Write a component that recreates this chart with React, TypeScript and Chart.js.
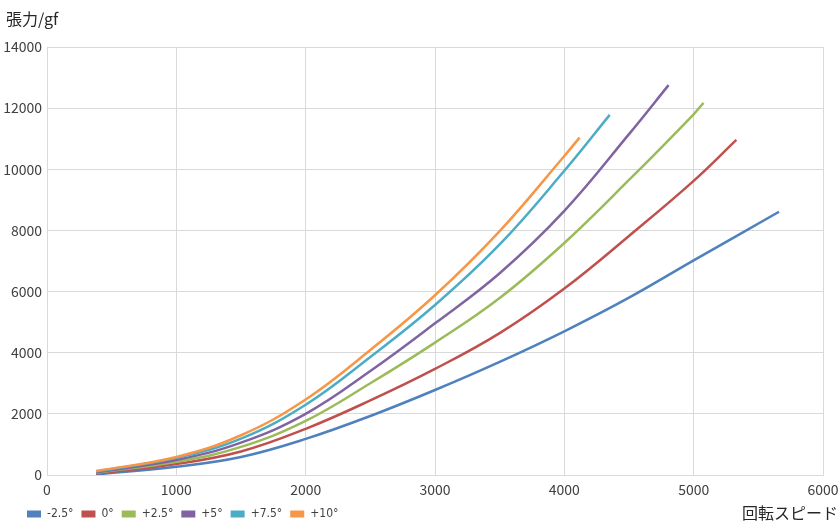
import { useEffect, useRef } from "react";
import { Chart, registerables } from "chart.js";

Chart.register(...registerables);

const seriesLabels = ["-2.5°", "0°", "+2.5°", "+5°", "+7.5°", "+10°"];
const seriesColors = ["#4F81BD", "#C0504D", "#9BBB59", "#8064A2", "#4BACC6", "#F79646"];

const speedM25 = [380, 1000, 1500, 2000, 2500, 3000, 3500, 4000, 4500, 5000, 5660];
const tensionM25 = [20, 272, 590, 1180, 1930, 2780, 3700, 4700, 5800, 7020, 8610];
const speed0 = [380, 1000, 1500, 2000, 2500, 3000, 3500, 4000, 4500, 5000, 5330];
const tension0 = [50, 360, 770, 1510, 2440, 3470, 4640, 6100, 7820, 9620, 10960];
const speedP25 = [380, 1000, 1500, 2000, 2500, 3000, 3500, 4000, 4500, 5000, 5076];
const tensionP25 = [70, 430, 920, 1770, 3000, 4330, 5790, 7590, 9650, 11800, 12174];
const speedP5 = [380, 1000, 1500, 2000, 2500, 3000, 3500, 4000, 4500, 4806];
const tensionP5 = [90, 490, 1060, 2000, 3400, 4960, 6600, 8640, 11150, 12754];
const speedP75 = [380, 1000, 1500, 2000, 2500, 3000, 3500, 4000, 4351];
const tensionP75 = [110, 560, 1190, 2300, 3860, 5560, 7540, 9950, 11780];
const speedP10 = [380, 1000, 1500, 2000, 2500, 3000, 3500, 4000, 4118];
const tensionP10 = [130, 590, 1300, 2470, 4090, 5880, 7977, 10436, 11036];

const speeds = [speedM25, speed0, speedP25, speedP5, speedP75, speedP10];
const tensions = [tensionM25, tension0, tensionP25, tensionP5, tensionP75, tensionP10];

const yAxisTitle = "張力/gf";
const xAxisTitle = "回転スピード";

const X_MIN = 0;
const X_MAX = 6000;
const X_STEP = 1000;
const Y_MIN = 0;
const Y_MAX = 14000;
const Y_STEP = 2000;

const CJK = "'Noto Sans CJK JP', 'Noto Sans', sans-serif";
const NARROW = "'Liberation Sans Narrow', 'DejaVu Sans Condensed', 'Noto Sans CJK JP', sans-serif";

export default function App() {
  const ref = useRef<HTMLCanvasElement | null>(null);

  useEffect(() => {
    document.body.style.margin = "0";
    const canvas = ref.current;
    if (!canvas) return;

    const datasets = speeds.map((xs, i) => ({
      label: seriesLabels[i],
      data: xs.map((x, j) => ({ x, y: tensions[i][j] })),
      borderColor: seriesColors[i],
      backgroundColor: seriesColors[i],
      borderWidth: 2.5,
      pointRadius: 0,
      pointHoverRadius: 0,
      tension: 0.4,
      fill: false,
      order: seriesLabels.length - i,
    }));

    const titlesPlugin = {
      id: "axisTitles",
      afterLayout(chart: any) {
        const lg = chart.legend;
        if (lg) {
          lg.left += 19;
          lg.right += 19;
        }
      },
      afterDraw(chart: any) {
        const ctx = chart.ctx;
        ctx.save();
        ctx.fillStyle = "#262626";
        ctx.font = `16px ${CJK}`;
        ctx.textBaseline = "middle";
        ctx.textAlign = "left";
        ctx.fillText(yAxisTitle, 6, 19);
        ctx.textAlign = "right";
        ctx.fillText(xAxisTitle, chart.width - 2, 513);
        ctx.restore();
      },
    };

    const chart = new Chart(canvas, {
      type: "line",
      data: { datasets },
      plugins: [titlesPlugin],
      options: {
        animation: false,
        responsive: false,
        devicePixelRatio: 1,
        layout: { padding: { left: 0, right: 17, top: 47, bottom: 2 } },
        scales: {
          x: {
            type: "linear",
            min: X_MIN,
            max: X_MAX,
            ticks: {
              stepSize: X_STEP,
              padding: 6,
              color: "#404040",
              font: { family: CJK, size: 14 },
              callback: (v: any) => String(v),
            },
            grid: { color: "#d9d9d9", drawTicks: false, lineWidth: 1 },
            border: { color: "#d9d9d9" },
            afterFit(scale: any) {
              scale.height = 25;
              scale.paddingRight = 0;
              scale.paddingLeft = 0;
            },
          },
          y: {
            type: "linear",
            min: Y_MIN,
            max: Y_MAX,
            ticks: {
              stepSize: Y_STEP,
              padding: 5,
              color: "#404040",
              font: { family: CJK, size: 14 },
              callback: (v: any) => String(v),
            },
            grid: { color: "#d9d9d9", drawTicks: false, lineWidth: 1 },
            border: { color: "#d9d9d9" },
            afterFit(scale: any) {
              scale.width = 47;
            },
          },
        },
        plugins: {
          legend: {
            position: "bottom",
            align: "start",
            labels: {
              boxWidth: 14,
              boxHeight: 7,
              padding: 8,
              color: "#404040",
              font: { family: NARROW, size: 12 },
              generateLabels(c: any) {
                const items = Chart.defaults.plugins.legend.labels.generateLabels(c);
                return items
                  .map((it: any) => ({ ...it, lineWidth: 0, strokeStyle: it.fillStyle }))
                  .sort((a: any, b: any) => a.datasetIndex - b.datasetIndex);
              },
            },
          },
          tooltip: { enabled: false },
        },
      },
    } as any);

    return () => chart.destroy();
  }, []);

  return (
    <div style={{ position: "absolute", left: 0, top: 0, width: 840, height: 532 }}>
      <canvas ref={ref} width={840} height={532} style={{ width: 840, height: 532, display: "block" }} />
    </div>
  );
}
